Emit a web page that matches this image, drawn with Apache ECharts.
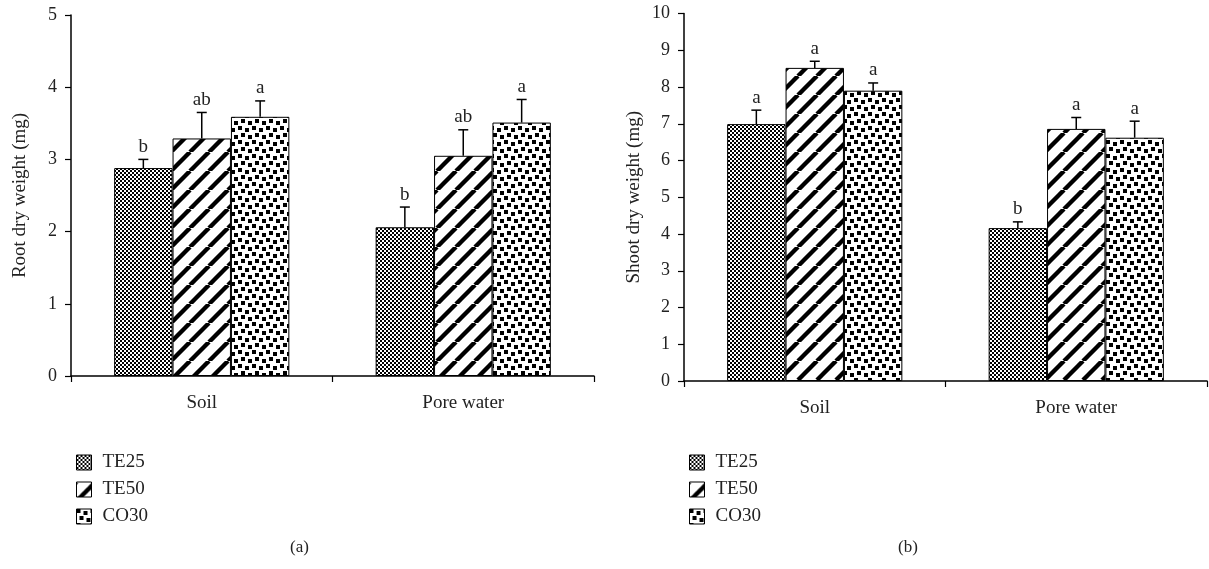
<!DOCTYPE html>
<html>
<head>
<meta charset="utf-8">
<script src="https://cdn.jsdelivr.net/npm/echarts@6/dist/echarts.min.js"></script>
<style>html,body{margin:0;padding:0;background:#fff;}#c{width:1209px;height:569px;}</style>
</head>
<body>
<div id="c"></div>
<script>
// ---- data ----
var categories = ['Soil', 'Pore water'];
var treatments = ['TE25', 'TE50', 'CO30'];
var rootTE25 = [2.88, 2.06];
var rootTE50 = [3.29, 3.05];
var rootCO30 = [3.59, 3.51];
var rootErrTE25 = [0.12, 0.28];
var rootErrTE50 = [0.36, 0.36];
var rootErrCO30 = [0.22, 0.32];
var rootLetTE25 = ['b', 'b'];
var rootLetTE50 = ['ab', 'ab'];
var rootLetCO30 = ['a', 'a'];
var shootTE25 = [6.99, 4.16];
var shootTE50 = [8.52, 6.86];
var shootCO30 = [7.90, 6.62];
var shootErrTE25 = [0.38, 0.17];
var shootErrTE50 = [0.18, 0.31];
var shootErrCO30 = [0.21, 0.45];
var shootLetTE25 = ['a', 'b'];
var shootLetTE50 = ['a', 'a'];
var shootLetCO30 = ['a', 'a'];
var yTicksRoot = [0, 1, 2, 3, 4, 5];
var yTicksShoot = [0, 1, 2, 3, 4, 5, 6, 7, 8, 9, 10];

// ---- patterns ----
function makeTile(size, draw) {
  var c = document.createElement('canvas');
  c.width = size; c.height = size;
  var g = c.getContext('2d');
  g.fillStyle = '#fff'; g.fillRect(0, 0, size, size);
  g.fillStyle = '#000'; g.strokeStyle = '#000';
  draw(g, size);
  return c;
}
var checker = makeTile(4, function (g) { g.fillRect(0, 0, 2, 2); g.fillRect(2, 2, 2, 2); });
var stripes = makeTile(19, function (g, s) {
  g.lineWidth = 4.4;
  [-s, 0, s].forEach(function (o) {
    g.beginPath(); g.moveTo(o, s); g.lineTo(o + s, 0); g.stroke();
  });
});
var dots = makeTile(14, function (g) {
  g.fillRect(0, 0, 4, 4); g.fillRect(7, 2, 4, 4);
  g.fillRect(3, 7, 4, 4); g.fillRect(10, 9, 4, 4);
});
var patterns = [checker, stripes, dots];

var FONT = 'Liberation Serif';
var GAP = 0.33;

function barSeries(name, data, idx, axisIdx) {
  return {
    name: name, type: 'bar', xAxisIndex: axisIdx, yAxisIndex: axisIdx,
    data: data, barGap: '0%', barCategoryGap: (GAP * 100) + '%',
    itemStyle: { color: { image: patterns[idx], repeat: 'repeat' }, borderColor: '#000', borderWidth: 1 },
    emphasis: { disabled: true }, silent: true
  };
}
function errSeries(means, errs, letters, idx, axisIdx) {
  var d = means.map(function (m, i) { return [i, m, errs[i]]; });
  return {
    type: 'custom', xAxisIndex: axisIdx, yAxisIndex: axisIdx, silent: true, z: 5,
    data: d,
    renderItem: function (params, api) {
      var cat = api.value(0), m = api.value(1), e = api.value(2);
      var b = api.coord([cat, m]), t = api.coord([cat, m + e]);
      var band = api.size([1, 0])[0];
      var bw = band * (1 - GAP) / 3;
      var x = b[0] + (idx - 1) * bw;
      return {
        type: 'group', children: [
          { type: 'line', shape: { x1: x, y1: b[1], x2: x, y2: t[1] }, style: { stroke: '#000', lineWidth: 1.5 } },
          { type: 'line', shape: { x1: x - 5, y1: t[1], x2: x + 5, y2: t[1] }, style: { stroke: '#000', lineWidth: 1.5 } },
          { type: 'text', x: x, y: t[1] - 3, style: { text: letters[params.dataIndex], fill: '#222', font: '19px "' + FONT + '"', align: 'center', verticalAlign: 'bottom' } }
        ]
      };
    }
  };
}
function xAx(gi) {
  return {
    type: 'category', gridIndex: gi, data: categories,
    axisLine: { lineStyle: { color: '#000', width: 1.5 } },
    axisTick: { show: true, length: 6, lineStyle: { color: '#000', width: 1.2 } },
    axisLabel: { color: '#222', fontFamily: FONT, fontSize: 19, margin: 18 }
  };
}
function yAx(gi, ticks, name, gap) {
  return {
    type: 'value', gridIndex: gi, min: ticks[0], max: ticks[ticks.length - 1], interval: 1,
    name: name, nameLocation: 'middle', nameGap: gap,
    nameTextStyle: { color: '#222', fontFamily: FONT, fontSize: 19 },
    axisLine: { show: true, lineStyle: { color: '#000', width: 1.5 } },
    axisTick: { show: true, length: 6, lineStyle: { color: '#000', width: 1.2 } },
    axisLabel: { color: '#222', fontFamily: FONT, fontSize: 18, margin: 14 },
    splitLine: { show: false }
  };
}
function legend(left) {
  return {
    orient: 'vertical', left: left, top: 448, itemWidth: 15, itemHeight: 15, itemGap: 8,
    icon: 'rect',
    data: treatments, selectedMode: false,
    itemStyle: { borderColor: '#000', borderWidth: 1 },
    textStyle: { color: '#222', fontFamily: FONT, fontSize: 19, padding: [0, 0, 0, 6] }
  };
}

var chart = echarts.init(document.getElementById('c'), null, { renderer: 'canvas' });
chart.setOption({
  animation: false,
  backgroundColor: '#fff',
  grid: [
    { left: 71, right: 615, top: 15, bottom: 193 },
    { left: 684, right: 2, top: 13.5, bottom: 188 }
  ],
  xAxis: [xAx(0), xAx(1)],
  yAxis: [yAx(0, yTicksRoot, 'Root dry weight (mg)', 41), yAx(1, yTicksShoot, 'Shoot dry weight (mg)', 40)],
  legend: [legend(71), legend(684)],
  graphic: [
    { type: 'text', left: 290, top: 539, style: { text: '(a)', fill: '#222', font: '17px "' + FONT + '"' } },
    { type: 'text', left: 898, top: 539, style: { text: '(b)', fill: '#222', font: '17px "' + FONT + '"' } }
  ],
  series: [
    barSeries('TE25', rootTE25, 0, 0),
    barSeries('TE50', rootTE50, 1, 0),
    barSeries('CO30', rootCO30, 2, 0),
    barSeries('TE25', shootTE25, 0, 1),
    barSeries('TE50', shootTE50, 1, 1),
    barSeries('CO30', shootCO30, 2, 1),
    errSeries(rootTE25, rootErrTE25, rootLetTE25, 0, 0),
    errSeries(rootTE50, rootErrTE50, rootLetTE50, 1, 0),
    errSeries(rootCO30, rootErrCO30, rootLetCO30, 2, 0),
    errSeries(shootTE25, shootErrTE25, shootLetTE25, 0, 1),
    errSeries(shootTE50, shootErrTE50, shootLetTE50, 1, 1),
    errSeries(shootCO30, shootErrCO30, shootLetCO30, 2, 1)
  ]
});
</script>
</body>
</html>
